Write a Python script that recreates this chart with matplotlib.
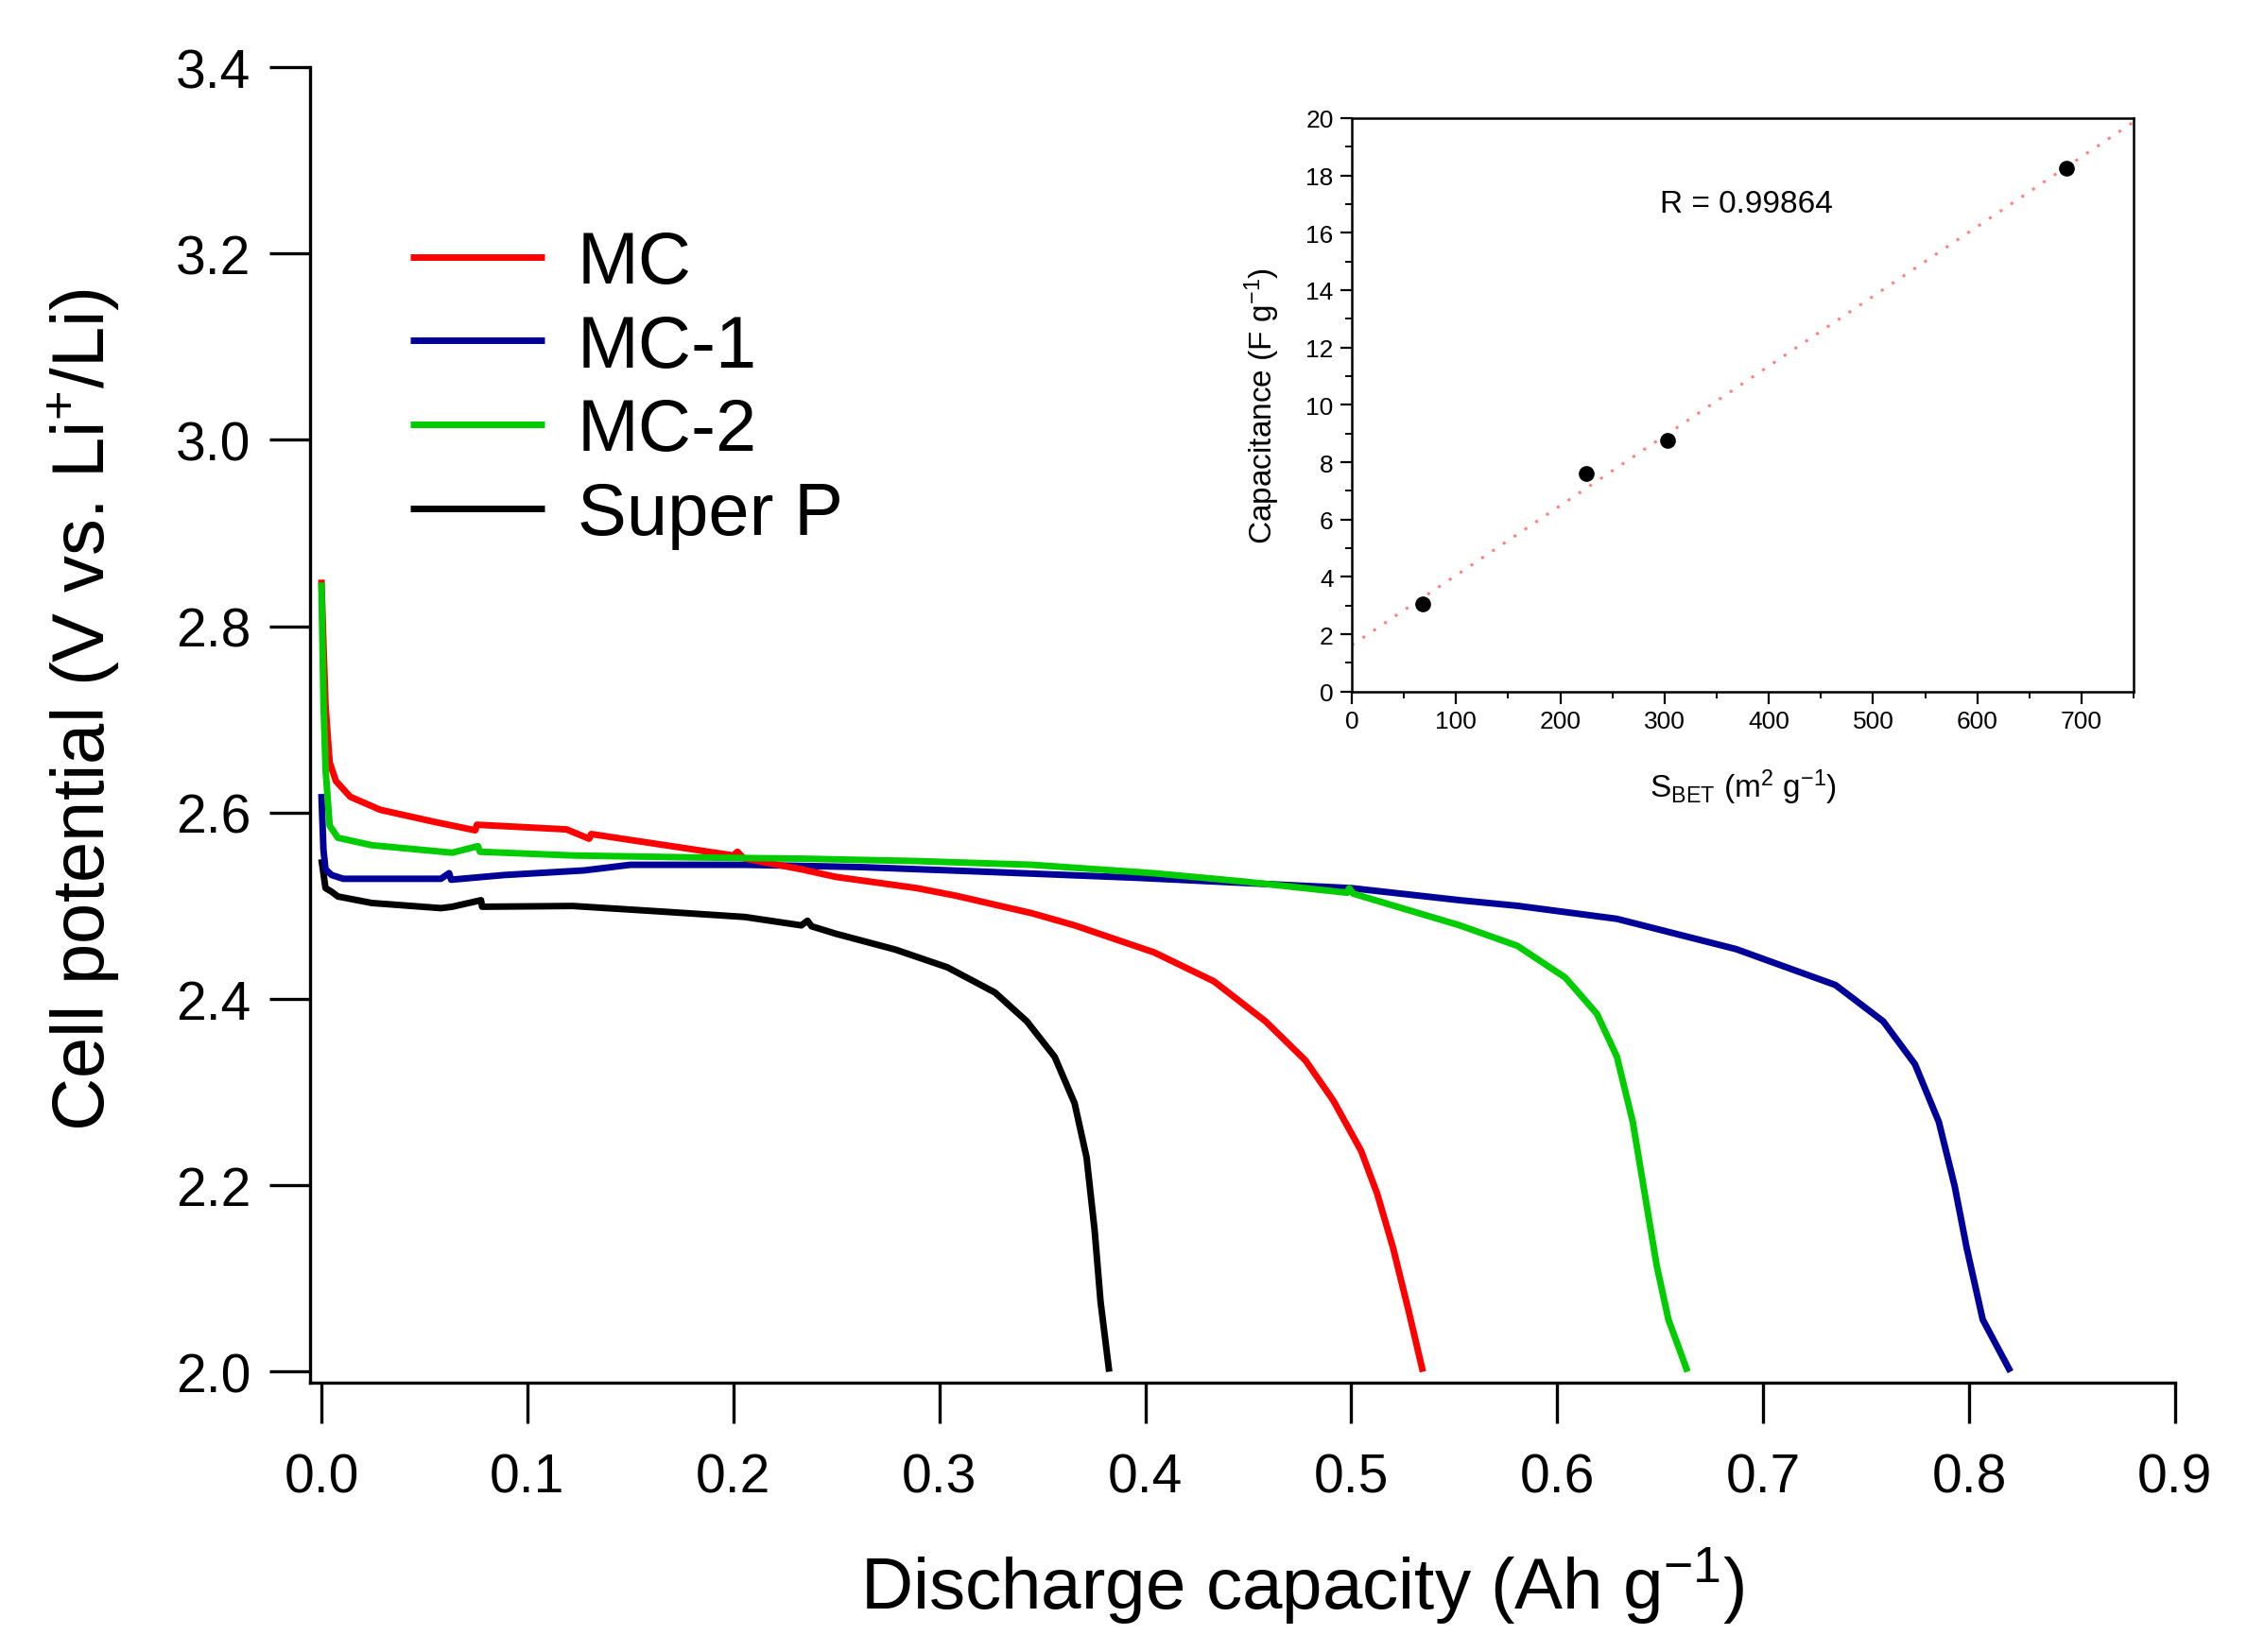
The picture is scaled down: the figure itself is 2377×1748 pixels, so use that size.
import numpy as np
import matplotlib
matplotlib.use("Agg")
import matplotlib.pyplot as plt

plt.rcParams["font.family"] = ["Liberation Sans", "DejaVu Sans"]
plt.rcParams["mathtext.fontset"] = "custom"
plt.rcParams["mathtext.rm"] = "Liberation Sans"
plt.rcParams["mathtext.it"] = "Liberation Sans"
plt.rcParams["mathtext.bf"] = "Liberation Sans:bold"

# discharge curves
mc_x = [0.0, 0.001, 0.002, 0.004, 0.007, 0.014, 0.0286, 0.055, 0.0747, 0.0755,
        0.119, 0.130, 0.131, 0.164, 0.200, 0.202, 0.205, 0.2334, 0.2498, 0.289,
        0.3077, 0.345, 0.3657, 0.4043, 0.4333, 0.4584, 0.4778, 0.4913, 0.5048,
        0.5126, 0.5203, 0.528, 0.5348]
mc_y = [2.85, 2.78, 2.715, 2.654, 2.634, 2.617, 2.603, 2.590, 2.581, 2.587,
        2.582, 2.572, 2.577, 2.566, 2.554, 2.558, 2.551, 2.539, 2.531, 2.519,
        2.511, 2.492, 2.479, 2.450, 2.419, 2.376, 2.334, 2.291, 2.237,
        2.191, 2.133, 2.064, 2.0]

mc1_x = [0.0, 0.001, 0.002, 0.005, 0.0106, 0.058, 0.062, 0.063, 0.0886, 0.1276,
         0.150, 0.2056, 0.261, 0.317, 0.3966, 0.50, 0.5527, 0.5807, 0.629,
         0.6869, 0.7351, 0.7583, 0.7737, 0.7853, 0.793, 0.7988, 0.8066, 0.8201]
mc1_y = [2.62, 2.56, 2.539, 2.533, 2.529, 2.529, 2.535, 2.528, 2.533, 2.538,
         2.544, 2.544, 2.5416, 2.537, 2.530, 2.519, 2.506, 2.500, 2.486,
         2.4535, 2.415, 2.376, 2.330, 2.268, 2.199, 2.133, 2.056, 2.0]

mc2_x = [0.0, 0.001, 0.002, 0.004, 0.008, 0.0245, 0.0635, 0.076, 0.077, 0.122,
         0.178, 0.233, 0.289, 0.345, 0.404, 0.448, 0.498, 0.499, 0.501, 0.5527,
         0.5807, 0.6039, 0.6193, 0.629, 0.6367, 0.6425, 0.6483, 0.654, 0.6633]
mc2_y = [2.847, 2.72, 2.647, 2.586, 2.573, 2.565, 2.557, 2.564, 2.558, 2.554,
         2.552, 2.5506, 2.548, 2.544, 2.535, 2.526, 2.514, 2.519, 2.513, 2.479,
         2.457, 2.423, 2.384, 2.338, 2.268, 2.191, 2.114, 2.056, 2.0]

sp_x = [0.0, 0.002, 0.005, 0.008, 0.0245, 0.058, 0.0635, 0.0775, 0.078, 0.122,
        0.164, 0.2056, 0.233, 0.236, 0.238, 0.2498, 0.2787, 0.3039, 0.327,
        0.3425, 0.356, 0.3657, 0.3715, 0.3754, 0.3783, 0.3825]
sp_y = [2.55, 2.519, 2.515, 2.510, 2.503, 2.4975, 2.499, 2.506, 2.499, 2.4998,
        2.494, 2.488, 2.479, 2.484, 2.478, 2.470, 2.453, 2.434, 2.407,
        2.376, 2.338, 2.288, 2.230, 2.152, 2.075, 2.0]

# inset: capacitance vs BET surface area
s_bet = [68, 225, 303, 685]
capacitance = [3.05, 7.6, 8.75, 18.25]

fig = plt.figure(figsize=(23.77, 17.49), dpi=100)
ax = fig.add_axes([0.138, 0.1628, 0.830, 0.796])

lw = 5
kw = dict(lw=lw, solid_joinstyle="round", solid_capstyle="butt")
l_sp, = ax.plot(sp_x, sp_y, color="black", label="Super P", **kw)
l_mc1, = ax.plot(mc1_x, mc1_y, color="#000099", label="MC-1", **kw)
l_mc, = ax.plot(mc_x, mc_y, color="#ff0000", label="MC", **kw)
l_mc2, = ax.plot(mc2_x, mc2_y, color="#00cc00", label="MC-2", **kw)

ax.set_xlim(-0.0055, 0.9)
ax.set_ylim(1.988, 3.4)
ax.set_xticks(np.arange(0, 0.91, 0.1))
ax.set_yticks(np.arange(2.0, 3.41, 0.2))
ax.xaxis.set_major_formatter(plt.FormatStrFormatter("%.1f"))
ax.yaxis.set_major_formatter(plt.FormatStrFormatter("%.1f"))
ax.tick_params(which="major", direction="out", length=31, width=2.4,
               labelsize=41, pad=14)
ax.tick_params(axis="x", pad=22)
ax.spines["right"].set_visible(False)
ax.spines["top"].set_visible(False)
ax.spines["bottom"].set_linewidth(2.4)
ax.spines["left"].set_linewidth(2.4)

ax.set_xlabel(r"Discharge capacity (Ah g$^{-1}$)", fontsize=55, labelpad=32)
ax.xaxis.label.set_x(0.532)
ax.set_ylabel(r"Cell potential (V vs. Li$^{+}$/Li)", fontsize=56, labelpad=41)
ax.yaxis.label.set_y(0.512)

ax.legend(handles=[l_mc, l_mc1, l_mc2, l_sp], loc="upper left",
          bbox_to_anchor=(0.1826, 0.861), bbox_transform=fig.transFigure,
          frameon=False, fontsize=56, handlelength=1.82, handletextpad=0.45,
          labelspacing=0.2, borderpad=0, borderaxespad=0)

# inset
axin = fig.add_axes([0.6016, 0.581, 0.348, 0.347])
fit = np.polyfit(s_bet, capacitance, 1)
fx = np.array([0, 750])
axin.plot(fx, np.polyval(fit, fx), color="#ff7f7f", lw=2.2,
          linestyle=(0, (1, 3.5)))
axin.plot(s_bet, capacitance, "o", color="black", ms=11)
axin.set_xlim(0, 750)
axin.set_ylim(0, 20)
axin.set_xticks(range(0, 701, 100))
axin.set_xticks(range(50, 751, 100), minor=True)
axin.set_yticks(range(0, 21, 2))
axin.set_yticks(range(1, 20, 2), minor=True)
axin.tick_params(which="major", direction="out", length=9, width=1.6,
                 labelsize=19, pad=5, top=False, right=False)
axin.tick_params(which="minor", direction="out", length=5, width=1.4,
                 top=False, right=False)
for sp in axin.spines.values():
    sp.set_linewidth(1.8)
axin.set_xlabel(r"S$_{\rm BET}$ (m$^{2}$ g$^{-1}$)", fontsize=24, labelpad=26)
axin.set_ylabel(r"Capacitance (F g$^{-1}$)", fontsize=24, labelpad=18)
axin.text(296, 17, "R = 0.99864", fontsize=24, va="center", ha="left")

fig.savefig("out.png", dpi=100)
